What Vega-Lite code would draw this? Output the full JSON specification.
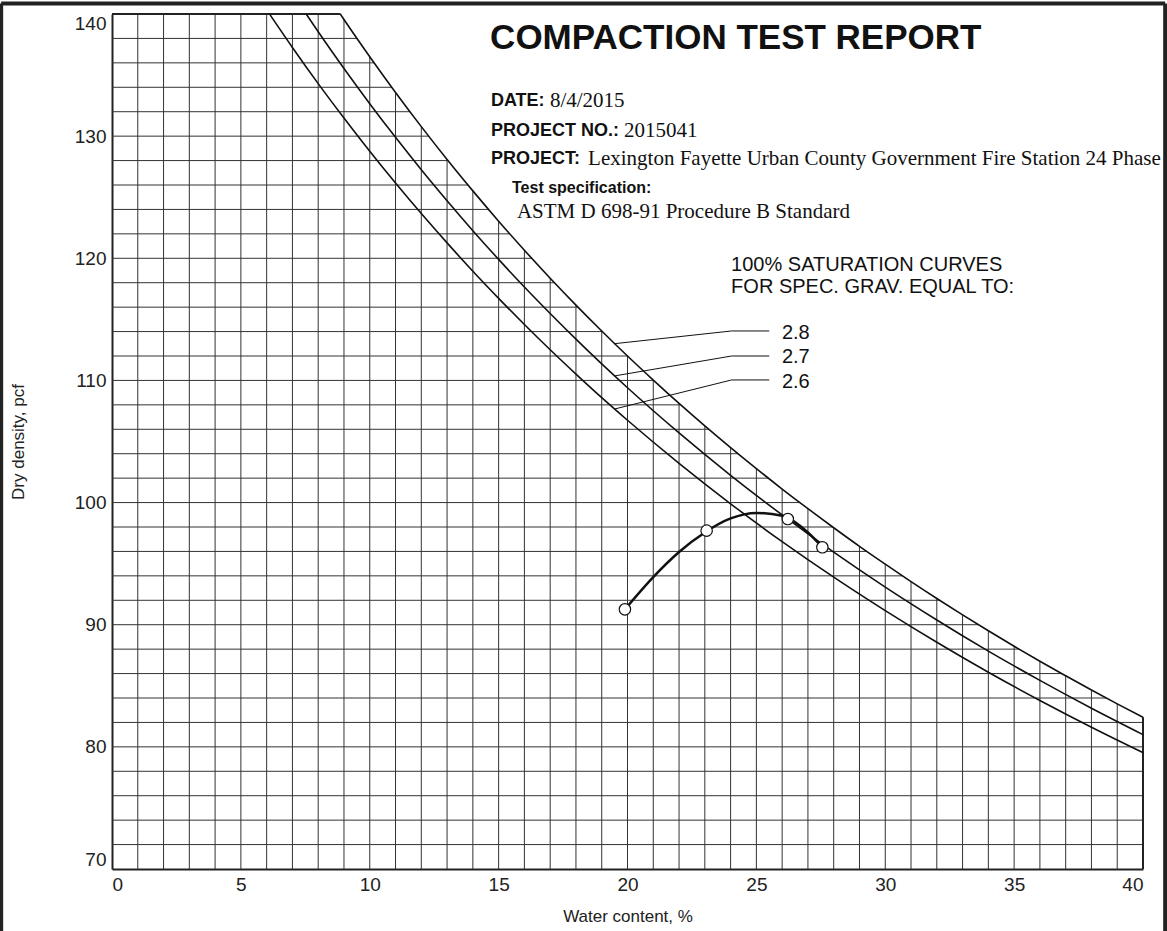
{
  "$schema": "https://vega.github.io/schema/vega-lite/v6.json",
  "width": 1031,
  "height": 855,
  "autosize": {"type": "none"},
  "padding": {"left": 112, "top": 14, "right": 24, "bottom": 62},
  "background": "white",
  "config": {
    "view": {"stroke": null},
    "font": "Liberation Sans",
    "axis": {"labelFont": "Liberation Sans", "titleFont": "Liberation Sans"}
  },
  "datasets": {
    "gridV": [
      {"w": 1, "d": 140}, {"w": 2, "d": 140}, {"w": 3, "d": 140}, {"w": 4, "d": 140},
      {"w": 5, "d": 140}, {"w": 6, "d": 140}, {"w": 7, "d": 140}, {"w": 8, "d": 140},
      {"w": 9, "d": 139.55}, {"w": 10, "d": 136.5}, {"w": 11, "d": 133.58}, {"w": 12, "d": 130.78},
      {"w": 13, "d": 128.09}, {"w": 14, "d": 125.52}, {"w": 15, "d": 123.04}, {"w": 16, "d": 120.66},
      {"w": 17, "d": 118.37}, {"w": 18, "d": 116.17}, {"w": 19, "d": 114.05}, {"w": 20, "d": 112.0},
      {"w": 21, "d": 110.03}, {"w": 22, "d": 108.12}, {"w": 23, "d": 106.28}, {"w": 24, "d": 104.5},
      {"w": 25, "d": 102.78}, {"w": 26, "d": 101.11}, {"w": 27, "d": 99.5}, {"w": 28, "d": 97.94},
      {"w": 29, "d": 96.42}, {"w": 30, "d": 94.96}, {"w": 31, "d": 93.53}, {"w": 32, "d": 92.15},
      {"w": 33, "d": 90.81}, {"w": 34, "d": 89.51}, {"w": 35, "d": 88.24}, {"w": 36, "d": 87.01},
      {"w": 37, "d": 85.82}, {"w": 38, "d": 84.65}, {"w": 39, "d": 83.52}, {"w": 40, "d": 82.42}
    ],
    "gridH": [
      {"d": 72, "w": 40}, {"d": 74, "w": 40}, {"d": 76, "w": 40}, {"d": 78, "w": 40},
      {"d": 80, "w": 40}, {"d": 82, "w": 40}, {"d": 84, "w": 38.57}, {"d": 86, "w": 36.84},
      {"d": 88, "w": 35.2}, {"d": 90, "w": 33.62}, {"d": 92, "w": 32.11}, {"d": 94, "w": 30.67},
      {"d": 96, "w": 29.29}, {"d": 98, "w": 27.96}, {"d": 100, "w": 26.69}, {"d": 102, "w": 25.46},
      {"d": 104, "w": 24.29}, {"d": 106, "w": 23.15}, {"d": 108, "w": 22.06}, {"d": 110, "w": 21.01},
      {"d": 112, "w": 20.0}, {"d": 114, "w": 19.02}, {"d": 116, "w": 18.08}, {"d": 118, "w": 17.17},
      {"d": 120, "w": 16.29}, {"d": 122, "w": 15.43}, {"d": 124, "w": 14.61}, {"d": 126, "w": 13.81},
      {"d": 128, "w": 13.04}, {"d": 130, "w": 12.29}, {"d": 132, "w": 11.56}, {"d": 134, "w": 10.85},
      {"d": 136, "w": 10.17}, {"d": 138, "w": 9.5}, {"d": 140, "w": 8.857}
    ],
    "saturation": [
      {"gs": "2.8", "w": 8.857, "d": 140}, {"gs": "2.8", "w": 9, "d": 139.55}, {"gs": "2.8", "w": 10, "d": 136.5},
      {"gs": "2.8", "w": 11, "d": 133.58}, {"gs": "2.8", "w": 12, "d": 130.78}, {"gs": "2.8", "w": 13, "d": 128.09},
      {"gs": "2.8", "w": 14, "d": 125.52}, {"gs": "2.8", "w": 15, "d": 123.04}, {"gs": "2.8", "w": 16, "d": 120.66},
      {"gs": "2.8", "w": 17, "d": 118.37}, {"gs": "2.8", "w": 18, "d": 116.17}, {"gs": "2.8", "w": 19, "d": 114.05},
      {"gs": "2.8", "w": 20, "d": 112.0}, {"gs": "2.8", "w": 21, "d": 110.03}, {"gs": "2.8", "w": 22, "d": 108.12},
      {"gs": "2.8", "w": 23, "d": 106.28}, {"gs": "2.8", "w": 24, "d": 104.5}, {"gs": "2.8", "w": 25, "d": 102.78},
      {"gs": "2.8", "w": 26, "d": 101.11}, {"gs": "2.8", "w": 27, "d": 99.5}, {"gs": "2.8", "w": 28, "d": 97.94},
      {"gs": "2.8", "w": 29, "d": 96.42}, {"gs": "2.8", "w": 30, "d": 94.96}, {"gs": "2.8", "w": 31, "d": 93.53},
      {"gs": "2.8", "w": 32, "d": 92.15}, {"gs": "2.8", "w": 33, "d": 90.81}, {"gs": "2.8", "w": 34, "d": 89.51},
      {"gs": "2.8", "w": 35, "d": 88.24}, {"gs": "2.8", "w": 36, "d": 87.01}, {"gs": "2.8", "w": 37, "d": 85.82},
      {"gs": "2.8", "w": 38, "d": 84.65}, {"gs": "2.8", "w": 39, "d": 83.52}, {"gs": "2.8", "w": 40, "d": 82.42},
      {"gs": "2.7", "w": 7.534, "d": 140}, {"gs": "2.7", "w": 8, "d": 138.55}, {"gs": "2.7", "w": 9, "d": 135.54},
      {"gs": "2.7", "w": 10, "d": 132.66}, {"gs": "2.7", "w": 11, "d": 129.9}, {"gs": "2.7", "w": 12, "d": 127.25},
      {"gs": "2.7", "w": 13, "d": 124.71}, {"gs": "2.7", "w": 14, "d": 122.26}, {"gs": "2.7", "w": 15, "d": 119.91},
      {"gs": "2.7", "w": 16, "d": 117.65}, {"gs": "2.7", "w": 17, "d": 115.48}, {"gs": "2.7", "w": 18, "d": 113.38},
      {"gs": "2.7", "w": 19, "d": 111.35}, {"gs": "2.7", "w": 20, "d": 109.4}, {"gs": "2.7", "w": 22, "d": 105.7},
      {"gs": "2.7", "w": 24, "d": 102.23}, {"gs": "2.7", "w": 26, "d": 98.99}, {"gs": "2.7", "w": 28, "d": 95.94},
      {"gs": "2.7", "w": 30, "d": 93.08}, {"gs": "2.7", "w": 32, "d": 90.39}, {"gs": "2.7", "w": 34, "d": 87.84},
      {"gs": "2.7", "w": 36, "d": 85.44}, {"gs": "2.7", "w": 38, "d": 83.16}, {"gs": "2.7", "w": 40, "d": 81.0},
      {"gs": "2.6", "w": 6.11, "d": 140}, {"gs": "2.6", "w": 7, "d": 137.26}, {"gs": "2.6", "w": 8, "d": 134.3},
      {"gs": "2.6", "w": 9, "d": 131.48}, {"gs": "2.6", "w": 10, "d": 128.76}, {"gs": "2.6", "w": 11, "d": 126.16},
      {"gs": "2.6", "w": 12, "d": 123.66}, {"gs": "2.6", "w": 13, "d": 121.26}, {"gs": "2.6", "w": 14, "d": 118.94},
      {"gs": "2.6", "w": 15, "d": 116.72}, {"gs": "2.6", "w": 16, "d": 114.58}, {"gs": "2.6", "w": 17, "d": 112.51},
      {"gs": "2.6", "w": 18, "d": 110.52}, {"gs": "2.6", "w": 19, "d": 108.59}, {"gs": "2.6", "w": 20, "d": 106.74},
      {"gs": "2.6", "w": 22, "d": 103.21}, {"gs": "2.6", "w": 24, "d": 99.9}, {"gs": "2.6", "w": 26, "d": 96.8},
      {"gs": "2.6", "w": 28, "d": 93.89}, {"gs": "2.6", "w": 30, "d": 91.15}, {"gs": "2.6", "w": 32, "d": 88.56},
      {"gs": "2.6", "w": 34, "d": 86.11}, {"gs": "2.6", "w": 36, "d": 83.8}, {"gs": "2.6", "w": 38, "d": 81.61},
      {"gs": "2.6", "w": 40, "d": 79.53}
    ],
    "leaders": [
      {"gs": "2.8", "step": 1, "w": 19.5, "d": 113.01}, {"gs": "2.8", "step": 2, "w": 24.04, "d": 114.05}, {"gs": "2.8", "step": 3, "w": 25.5, "d": 114.05},
      {"gs": "2.7", "step": 1, "w": 19.5, "d": 110.37}, {"gs": "2.7", "step": 2, "w": 24.04, "d": 112.0}, {"gs": "2.7", "step": 3, "w": 25.5, "d": 112.0},
      {"gs": "2.6", "step": 1, "w": 19.5, "d": 107.66}, {"gs": "2.6", "step": 2, "w": 24.04, "d": 110.04}, {"gs": "2.6", "step": 3, "w": 25.5, "d": 110.04}
    ],
    "curve": [
      {"w": 19.9, "d": 91.26}, {"w": 21, "d": 93.9}, {"w": 22, "d": 95.95}, {"w": 23, "d": 97.55},
      {"w": 24, "d": 98.7}, {"w": 25, "d": 99.15}, {"w": 26, "d": 98.92}, {"w": 27, "d": 97.55}, {"w": 27.56, "d": 96.34}
    ],
    "tests": [
      {"w": 19.9, "d": 91.26}, {"w": 23.07, "d": 97.7}, {"w": 26.22, "d": 98.65}, {"w": 27.56, "d": 96.34}
    ],
    "title": [
      {"text": "COMPACTION TEST REPORT", "w": 14.67, "d": 138.04}
    ],
    "fieldLabels": [
      {"text": "DATE:", "w": 14.7, "d": 132.88},
      {"text": "PROJECT NO.:", "w": 14.7, "d": 130.42},
      {"text": "PROJECT:", "w": 14.7, "d": 128.13}
    ],
    "specLabel": [
      {"text": "Test specification:", "w": 15.52, "d": 125.75}
    ],
    "fieldValues": [
      {"text": "8/4/2015", "w": 16.99, "d": 132.88},
      {"text": "2015041", "w": 19.86, "d": 130.42},
      {"text": "Lexington Fayette Urban County Government Fire Station 24 Phase", "w": 18.47, "d": 128.13},
      {"text": "ASTM D 698-91 Procedure B Standard", "w": 15.71, "d": 123.79}
    ],
    "notes": [
      {"text": "100% SATURATION CURVES", "w": 24.02, "d": 119.45},
      {"text": "FOR SPEC. GRAV. EQUAL TO:", "w": 24.02, "d": 117.65},
      {"text": "2.8", "w": 25.99, "d": 113.88},
      {"text": "2.7", "w": 25.99, "d": 111.92},
      {"text": "2.6", "w": 25.99, "d": 109.87}
    ],
    "frame": [
      {"w": -4.3, "d": 64.6, "w2": -4.3, "d2": 140.86},
      {"w": -4.3, "d": 140.86, "w2": 40.86, "d2": 140.86},
      {"w": 40.86, "d": 140.86, "w2": 40.86, "d2": 64.6}
    ]
  },
  "encoding": {
    "x": {
      "field": "w", "type": "quantitative",
      "scale": {"domain": [0, 40], "nice": false, "zero": false},
      "axis": {
        "title": "Water content, %", "values": [0, 5, 10, 15, 20, 25, 30, 35, 40],
        "labelFlush": true, "ticks": false, "grid": false,
        "domainColor": "#222", "domainWidth": 2,
        "labelFontSize": 19, "labelColor": "#222", "labelPadding": 6,
        "titleFontSize": 17, "titleFontWeight": "normal", "titleColor": "#222", "titlePadding": 14
      }
    },
    "y": {
      "field": "d", "type": "quantitative",
      "scale": {"domain": [70, 140], "nice": false, "zero": false},
      "axis": {
        "title": "Dry density, pcf", "values": [70, 80, 90, 100, 110, 120, 130, 140],
        "labelFlush": true, "ticks": false, "grid": false,
        "domainColor": "#222", "domainWidth": 2,
        "labelFontSize": 19, "labelColor": "#222", "labelPadding": 6,
        "titleFontSize": 17, "titleFontWeight": "normal", "titleColor": "#222", "titlePadding": 47
      }
    }
  },
  "layer": [
    {
      "data": {"name": "gridV"},
      "mark": {"type": "rule", "color": "#333", "strokeWidth": 1},
      "encoding": {"y2": {"datum": 70}}
    },
    {
      "data": {"name": "gridH"},
      "mark": {"type": "rule", "color": "#333", "strokeWidth": 1},
      "encoding": {"x2": {"datum": 0}}
    },
    {
      "data": {"name": "gridV"},
      "transform": [{"filter": "datum.w == 40"}],
      "mark": {"type": "rule", "color": "#222", "strokeWidth": 2},
      "encoding": {"y2": {"datum": 70}}
    },
    {
      "data": {"name": "gridH"},
      "transform": [{"filter": "datum.d == 140"}],
      "mark": {"type": "rule", "color": "#222", "strokeWidth": 2},
      "encoding": {"x2": {"datum": 0}}
    },
    {
      "data": {"name": "saturation"},
      "mark": {"type": "line", "color": "#111", "strokeWidth": 1.6, "interpolate": "monotone"},
      "encoding": {"detail": {"field": "gs", "type": "nominal"}}
    },
    {
      "data": {"name": "leaders"},
      "mark": {"type": "line", "color": "#111", "strokeWidth": 1},
      "encoding": {
        "detail": {"field": "gs", "type": "nominal"},
        "order": {"field": "step", "type": "quantitative"}
      }
    },
    {
      "data": {"name": "curve"},
      "mark": {"type": "line", "color": "#111", "strokeWidth": 2.5, "interpolate": "monotone"},
      "encoding": {}
    },
    {
      "data": {"name": "tests"},
      "mark": {"type": "circle", "fill": "white", "stroke": "#111", "strokeWidth": 1.2, "size": 130, "opacity": 1},
      "encoding": {}
    },
    {
      "data": {"name": "title"},
      "mark": {"type": "text", "align": "left", "baseline": "middle", "font": "Liberation Sans", "fontSize": 35, "fontWeight": "bold", "color": "#111"},
      "encoding": {"text": {"field": "text", "type": "nominal"}}
    },
    {
      "data": {"name": "fieldLabels"},
      "mark": {"type": "text", "align": "left", "baseline": "middle", "font": "Liberation Sans", "fontSize": 18, "fontWeight": "bold", "color": "#111"},
      "encoding": {"text": {"field": "text", "type": "nominal"}}
    },
    {
      "data": {"name": "specLabel"},
      "mark": {"type": "text", "align": "left", "baseline": "middle", "font": "Liberation Sans", "fontSize": 16, "fontWeight": "bold", "color": "#111"},
      "encoding": {"text": {"field": "text", "type": "nominal"}}
    },
    {
      "data": {"name": "fieldValues"},
      "mark": {"type": "text", "align": "left", "baseline": "middle", "font": "Liberation Serif", "fontSize": 21, "color": "#111"},
      "encoding": {"text": {"field": "text", "type": "nominal"}}
    },
    {
      "data": {"name": "notes"},
      "mark": {"type": "text", "align": "left", "baseline": "middle", "font": "Liberation Sans", "fontSize": 20, "color": "#111"},
      "encoding": {"text": {"field": "text", "type": "nominal"}}
    },
    {
      "data": {"name": "frame"},
      "mark": {"type": "rule", "color": "#222", "strokeWidth": 4},
      "encoding": {
        "x2": {"field": "w2"},
        "y2": {"field": "d2"}
      }
    }
  ]
}
